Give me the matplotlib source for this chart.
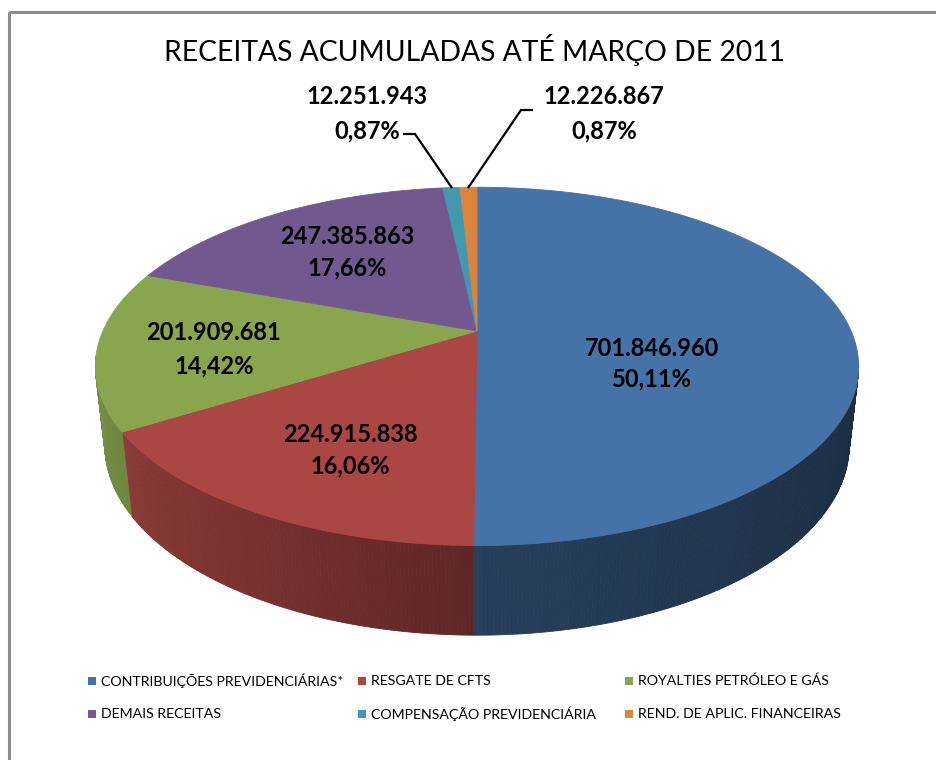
# -*- coding: utf-8 -*-
import numpy as np
import matplotlib.pyplot as plt
from matplotlib.patches import Polygon, Rectangle
from matplotlib.collections import PolyCollection

plt.rcParams['font.family'] = ['Lato', 'DejaVu Sans']

# data
title = 'RECEITAS ACUMULADAS ATÉ MARÇO DE 2011'
categories = ['CONTRIBUIÇÕES PREVIDENCIÁRIAS*', 'RESGATE DE CFTS',
              'ROYALTIES PETRÓLEO E GÁS', 'DEMAIS RECEITAS',
              'COMPENSAÇÃO PREVIDENCIÁRIA', 'REND. DE APLIC. FINANCEIRAS']
values = [701846960, 224915838, 201909681, 247385863, 12251943, 12226867]
colors = ['#4572A7', '#AA4643', '#89A54E', '#71588F', '#4198AF', '#DB843D']

# layout (pixels, y down)
W, H_PX = 937, 760
CX, CY = 477, 331          # projected centre of the pie
K, D = 1682, 4.496         # perspective scale / camera distance
ELEV = np.radians(27.4)
THICK = 0.239
se, ce = np.sin(ELEV), np.cos(ELEV)

label_pos = [(652, 348, 379), (350, 435, 466), (214, 333, 366),
             (347, 237, 268), (367, 96, 131), (604, 96, 131)]
leaders = {4: [(403, 134), (415, 134), (452, 188)],
           5: [(533, 110), (521, 110), (468, 188)]}
legend_x = [88, 358, 625]
legend_y = [681, 714]


def proj(theta, r, z):
    t = np.radians(theta)
    x, y = r * np.sin(t), r * np.cos(t)
    depth = D + y * ce - z * se
    return CX + K * x / depth, CY - K * (y * se + z * ce) / depth


def shade(theta):
    return np.interp(theta, [90, 130, 180, 210, 240, 270],
                     [0.38, 0.43, 0.55, 0.70, 0.82, 0.88])


vals = np.array(values, dtype=float)
frac = vals / vals.sum()
edges = np.concatenate([[0], np.cumsum(frac) * 360])

fig = plt.figure(figsize=(W / 100, H_PX / 100), dpi=100)
ax = fig.add_axes([0, 0, 1, 1])
ax.set_xlim(0, W)
ax.set_ylim(H_PX, 0)
ax.axis('off')

# outer walls (front facing part only)
quads, qcols = [], []
for i in range(len(values)):
    a0, a1 = max(edges[i], 100), min(edges[i + 1], 262)
    if a1 <= a0:
        continue
    ts = np.linspace(a0, a1, max(int((a1 - a0) / 0.5), 2))
    base = np.array(plt.matplotlib.colors.to_rgb(colors[i]))
    for t0, t1 in zip(ts[:-1], ts[1:]):
        p = [proj(t0, 1, 0), proj(t1, 1, 0), proj(t1, 1, -THICK), proj(t0, 1, -THICK)]
        quads.append(p)
        qcols.append(np.clip(base * shade((t0 + t1) / 2), 0, 1))
ax.add_collection(PolyCollection(quads, facecolors=qcols, edgecolors=qcols, linewidths=0.6))

# top faces
for i in range(len(values)):
    ts = np.linspace(edges[i], edges[i + 1], max(int((edges[i + 1] - edges[i]) * 2), 3))
    pts = [(CX, CY)] + [proj(t, 1, 0) for t in ts]
    ax.add_patch(Polygon(pts, closed=True, facecolor=colors[i], edgecolor=colors[i], lw=0.6))

# labels
for i, v in enumerate(values):
    x, y1, y2 = label_pos[i]
    ax.text(x, y1, f'{v:,}'.replace(',', '.'), ha='center', va='center',
            fontsize=17, fontweight='bold', color='black')
    ax.text(x, y2, f'{frac[i] * 100:.2f}%'.replace('.', ','), ha='center', va='center',
            fontsize=17, fontweight='bold', color='black')
for i, pts in leaders.items():
    xs, ys = zip(*pts)
    ax.plot(xs, ys, color='black', lw=1.6, solid_capstyle='butt')

ax.text(474, 50, title, ha='center', va='center', fontsize=20.3, color='black')

# legend
for i, cat in enumerate(categories):
    lx, ly = legend_x[i % 3], legend_y[i // 3]
    ax.add_patch(Rectangle((lx, ly - 4), 8, 8, facecolor=colors[i], edgecolor='none'))
    ax.text(lx + 13, ly, cat, ha='left', va='center', fontsize=10.2, color='black')

# chart frame
ax.add_patch(Rectangle((9.5, 11.5), 960, 800, fill=False, edgecolor='#8c8c8c', lw=2.2))

fig.savefig('out.png', dpi=100)
